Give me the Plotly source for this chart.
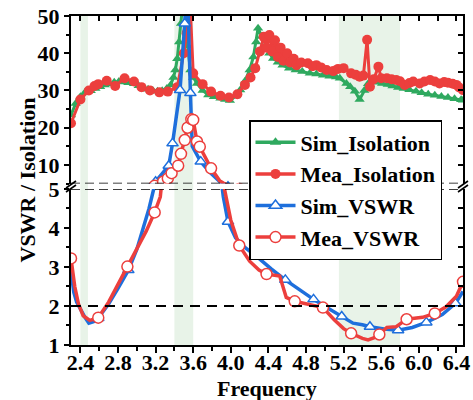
import plotly.graph_objects as go

# ---------------- data ----------------
sim_iso_f = [2.30, 2.35, 2.40, 2.45, 2.51, 2.56, 2.61, 2.66, 2.71, 2.76, 2.81, 2.86, 2.91, 2.97,
             3.02, 3.07, 3.12, 3.17, 3.22, 3.27, 3.32, 3.36, 3.39, 3.41, 3.43, 3.45, 3.47, 3.50,
             3.54, 3.57, 3.60, 3.64, 3.70, 3.76, 3.82, 3.89, 3.94, 3.99, 4.05, 4.10, 4.15, 4.20,
             4.24, 4.27, 4.29, 4.33, 4.38, 4.41, 4.45, 4.50, 4.55, 4.62, 4.69, 4.76, 4.84, 4.91,
             4.98, 5.05, 5.12, 5.16, 5.23, 5.27, 5.32, 5.37, 5.42, 5.46, 5.51, 5.55, 5.61, 5.67,
             5.72, 5.78, 5.84, 5.90, 5.97, 6.03, 6.10, 6.17, 6.24, 6.31, 6.38, 6.45, 6.47]
sim_iso_v = [23.4, 26.5, 28.3, 29.5, 29.9, 30.5, 31.0, 31.5, 31.8, 32.2, 32.4, 32.3, 32.1, 31.8,
             31.3, 30.8, 30.3, 30.0, 29.8, 29.9, 30.5, 31.5, 33.5, 35.5, 38.5, 43.0, 48.0, 56.0,
             42.0, 35.5, 33.5, 31.9, 30.0, 28.8, 28.3, 27.9, 27.6, 27.3, 28.5, 30.1, 32.5, 35.5,
             39.0, 43.0, 46.7, 44.5, 41.5, 40.0, 38.6, 37.6, 36.8, 36.0, 35.5, 35.1, 34.6, 34.4,
             34.1, 33.8, 33.6, 33.3, 31.9, 31.0, 29.8, 27.6, 30.0, 31.8, 32.4, 32.2, 31.9, 31.6,
             31.2, 30.8, 30.5, 30.2, 29.8, 29.4, 29.0, 28.7, 28.4, 28.1, 27.8, 27.5, 27.4]

mea_iso_f = [2.30, 2.40, 2.49, 2.55, 2.59, 2.68, 2.77, 2.87, 2.97, 3.05, 3.14, 3.24, 3.33, 3.43,
             3.50, 3.53, 3.555, 3.60, 3.70, 3.79, 3.89, 3.98, 4.07, 4.15, 4.21, 4.26, 4.31, 4.35,
             4.38, 4.41, 4.44, 4.47, 4.50, 4.53, 4.56, 4.60, 4.63, 4.67, 4.70, 4.75, 4.82, 4.87,
             4.91, 4.96, 5.02, 5.09, 5.14, 5.20, 5.28, 5.33, 5.37, 5.41, 5.45, 5.48, 5.52, 5.57,
             5.60, 5.66, 5.71, 5.76, 5.80, 5.85, 5.90, 5.94, 6.01, 6.06, 6.12, 6.17, 6.22, 6.27,
             6.31, 6.36, 6.40, 6.43, 6.47]
mea_iso_v = [21.2, 27.6, 30.0, 31.2, 31.7, 32.6, 31.2, 33.3, 32.4, 30.9, 30.0, 29.5, 29.7, 30.9,
             40.0, 45.4, 60.0, 34.6, 31.7, 29.7, 28.6, 28.1, 29.0, 31.5, 33.5, 36.0, 40.5, 44.4,
             41.5, 44.9, 40.5, 43.5, 39.0, 41.5, 38.0, 40.0, 37.5, 38.5, 36.8, 37.5, 37.3, 36.5,
             36.8, 36.2, 35.5, 35.2, 35.8, 36.0, 34.6, 34.2, 33.7, 34.0, 43.6, 31.0, 33.0, 36.4,
             33.3, 33.3, 33.0, 32.8, 32.5, 31.5, 32.0, 32.4, 31.9, 32.4, 32.8, 32.4, 31.9, 32.3,
             32.1, 31.8, 31.5, 30.8, 30.1]

sim_vswr_f = [2.30, 2.33, 2.36, 2.40, 2.45, 2.49, 2.54, 2.59, 2.70, 2.80, 2.91, 3.00, 3.07, 3.13,
              3.18, 3.20, 3.27, 3.34, 3.38, 3.42, 3.46, 3.51, 3.535, 3.57, 3.59, 3.68, 3.78, 3.88,
              3.92, 3.97, 4.05, 4.15, 4.28, 4.43, 4.58, 4.73, 4.88, 5.03, 5.18, 5.30, 5.40, 5.48,
              5.63, 5.78, 5.93, 6.08, 6.25, 6.39, 6.47]
sim_vswr_v = [2.88, 2.35, 2.10, 1.90, 1.70, 1.56, 1.60, 1.69, 2.05, 2.45, 2.92, 3.45, 4.00, 4.50,
              5.00, 5.50, 7.50, 9.80, 15.8, 22.5, 30.1, 48.0, 62.0, 29.3, 15.0, 10.9, 8.0, 5.6,
              4.8, 4.16, 3.75, 3.50, 3.26, 2.95, 2.67, 2.42, 2.17, 1.95, 1.73, 1.56, 1.52, 1.47,
              1.41, 1.38, 1.45, 1.58, 1.78, 2.07, 2.37]
sim_vswr_marks = [2.59, 2.91, 3.20, 3.34, 3.38, 3.46, 3.51, 3.57, 3.68, 3.97, 4.28, 4.58, 4.88,
                  5.18, 5.48, 5.78, 6.08, 6.39]

mea_vswr_f = [2.30, 2.34, 2.38, 2.43, 2.50, 2.59, 2.70, 2.80, 2.90, 3.00, 3.10, 3.19, 3.25, 3.28,
              3.33, 3.37, 3.44, 3.47, 3.51, 3.54, 3.58, 3.60, 3.64, 3.67, 3.79, 3.88, 3.92, 4.00,
              4.09, 4.20, 4.30, 4.38, 4.52, 4.59, 4.68, 4.80, 4.90, 4.98, 5.10, 5.20, 5.28, 5.40,
              5.46, 5.52, 5.58, 5.66, 5.76, 5.87, 6.04, 6.17, 6.29, 6.40, 6.47]
mea_vswr_v = [3.22, 2.50, 2.05, 1.75, 1.63, 1.70, 2.10, 2.55, 3.01, 3.45, 3.92, 4.40, 4.80, 5.50,
              6.40, 7.80, 9.80, 13.0, 16.7, 20.0, 22.3, 22.1, 16.3, 14.9, 9.1, 5.8, 5.15, 4.20,
              3.55, 3.15, 2.92, 2.82, 2.77, 2.22, 2.12, 2.06, 2.02, 1.96, 1.65, 1.42, 1.30, 1.17,
              1.13, 1.18, 1.27, 1.45, 1.47, 1.66, 1.71, 1.81, 1.98, 2.25, 2.62]
mea_vswr_marks = [2.30, 2.59, 2.90, 3.19, 3.28, 3.33, 3.37, 3.44, 3.47, 3.51, 3.54, 3.58, 3.60,
                  3.64, 3.67, 3.79, 4.09, 4.38, 4.68, 4.98, 5.28, 5.58, 5.87, 6.17, 6.47]

bands = [(2.40, 2.48), (3.40, 3.60), (5.15, 5.80)]
x_ticks = [2.4, 2.8, 3.2, 3.6, 4.0, 4.4, 4.8, 5.2, 5.6, 6.0, 6.4]
y_low_ticks = [1, 2, 3, 4, 5]
y_up_ticks = [10, 20, 30, 40, 50]
names = ["Sim_Isolation", "Mea_Isolation", "Sim_VSWR", "Mea_VSWR"]

# ---------------- styles ----------------
GREEN = "#2FA95F"
RED = "#EC3F3D"
BLUE = "#1E6FDC"
FONT = "Liberation Serif, Times New Roman, serif"

fig = go.Figure()

fig.add_trace(go.Scatter(x=sim_iso_f, y=sim_iso_v, xaxis="x", yaxis="y2", mode="lines+markers",
                         line=dict(color=GREEN, width=3),
                         marker=dict(symbol="triangle-up", size=9, color=GREEN),
                         showlegend=False, hoverinfo="skip"))
fig.add_trace(go.Scatter(x=mea_iso_f, y=mea_iso_v, xaxis="x", yaxis="y2", mode="lines+markers",
                         line=dict(color=RED, width=3),
                         marker=dict(symbol="circle", size=10, color=RED),
                         showlegend=False, hoverinfo="skip"))


def add_vswr(f, v, marks, color, symbol, size):
    lookup = dict(zip(f, v))
    mv = [lookup[m] for m in marks]
    for ya in ("y", "y2"):
        fig.add_trace(go.Scatter(x=f, y=v, xaxis="x", yaxis=ya, mode="lines",
                                 line=dict(color=color, width=3.5),
                                 showlegend=False, hoverinfo="skip"))
        fig.add_trace(go.Scatter(x=marks, y=mv, xaxis="x", yaxis=ya, mode="markers",
                                 marker=dict(symbol=symbol, size=size, color="white",
                                             line=dict(color=color, width=1.5)),
                                 showlegend=False, hoverinfo="skip"))


add_vswr(sim_vswr_f, sim_vswr_v, sim_vswr_marks, BLUE, "triangle-up", 10)
add_vswr(mea_vswr_f, mea_vswr_v, mea_vswr_marks, RED, "circle", 11)

leg_styles = [
    (GREEN, dict(symbol="triangle-up", size=10, color=GREEN)),
    (RED, dict(symbol="circle", size=10, color=RED)),
    (BLUE, dict(symbol="triangle-up", size=11, color="white", line=dict(color=BLUE, width=1.5))),
    (RED, dict(symbol="circle", size=11, color="white", line=dict(color=RED, width=1.5))),
]
for i, (nm, (c, mk)) in enumerate(zip(names, leg_styles)):
    fig.add_trace(go.Scatter(x=[None], y=[None], xaxis="x", yaxis="y2", mode="lines+markers",
                             name=nm, line=dict(color=c, width=3.5), marker=mk,
                             legendrank=i + 1))

fig.add_trace(go.Scatter(x=[None], y=[None], xaxis="x2", yaxis="y2", showlegend=False, hoverinfo="skip"))
fig.add_trace(go.Scatter(x=[None], y=[None], xaxis="x", yaxis="y3", showlegend=False, hoverinfo="skip"))
fig.add_trace(go.Scatter(x=[None], y=[None], xaxis="x", yaxis="y4", showlegend=False, hoverinfo="skip"))

tickfont = dict(family=FONT, size=22, color="black", weight="bold")
XR = [2.3, 6.47]
LOW_DOM = [0, 0.4742]
UP_DOM = [0.4906, 1]

common = dict(showgrid=False, zeroline=False, showline=True, linecolor="black", linewidth=2,
              tickcolor="black", tickwidth=2, automargin=False)

fig.update_layout(
    width=473, height=400,
    margin=dict(l=71, r=10, t=16, b=55, autoexpand=False),
    paper_bgcolor="white", plot_bgcolor="rgba(0,0,0,0)",
    xaxis=dict(domain=[0, 1], anchor="y", range=XR, tickvals=x_ticks,
               ticktext=[f"{t:.1f}" for t in x_ticks], ticks="outside", ticklen=6,
               tickfont=tickfont, ticklabelstandoff=-9, ticklabeloverflow="allow",
               minor=dict(dtick=0.2, tick0=2.4, ticks="outside", ticklen=4, tickwidth=1.5,
                          tickcolor="black"),
               **common),
    xaxis2=dict(overlaying="x", side="top", anchor="y2", range=XR, ticks="inside",
                dtick=0.2, tick0=2.4, ticklen=5, showticklabels=False, **common),
    yaxis=dict(domain=LOW_DOM, anchor="x", range=[1, 5], tickvals=y_low_ticks,
               ticks="outside", ticklen=5, tickfont=tickfont, ticklabeloverflow="allow",
               minor=dict(dtick=0.5, tick0=1, ticks="outside", ticklen=3, tickwidth=1.5,
                          tickcolor="black"),
               **common),
    yaxis2=dict(domain=UP_DOM, anchor="x", range=[5, 50], tickvals=y_up_ticks,
                ticks="outside", ticklen=5, tickfont=tickfont, ticklabeloverflow="allow",
                minor=dict(dtick=5, tick0=0, ticks="outside", ticklen=3, tickwidth=1.5,
                           tickcolor="black"),
                **common),
    yaxis3=dict(overlaying="y", side="right", anchor="x", range=[1, 5], ticks="inside",
                dtick=0.5, tick0=1, ticklen=5, showticklabels=False, **common),
    yaxis4=dict(overlaying="y2", side="right", anchor="x", range=[5, 50], ticks="inside",
                dtick=5, tick0=0, ticklen=5, showticklabels=False, **common),
    legend=dict(x=(249 - 71) / 392, y=(345 - 120) / 329, xanchor="left", yanchor="top",
                bgcolor="white", bordercolor="black", borderwidth=1.5,
                font=dict(family=FONT, size=22, color="black", weight="bold"),
                itemwidth=40, traceorder="normal"),
    showlegend=True,
)

shapes = []
for a, b in bands:
    shapes.append(dict(type="rect", xref="x", yref="paper", x0=a, x1=b, y0=0, y1=1,
                       fillcolor="#E8F3E8", line=dict(width=0), layer="below"))
shapes.append(dict(type="line", xref="paper", yref="y2", x0=0, x1=1, y0=5, y1=5,
                   line=dict(color="black", width=1.6, dash="9px,5px")))
shapes.append(dict(type="line", xref="paper", yref="y", x0=0, x1=1, y0=5, y1=5,
                   line=dict(color="black", width=1.6, dash="9px,5px")))
shapes.append(dict(type="line", xref="paper", yref="y", x0=0, x1=1, y0=2, y1=2,
                   line=dict(color="black", width=2, dash="10px,7px")))


def px2paper(px, py):
    return (px - 71) / 392, (345 - py) / 329


for xc in (71, 463):
    for dy in (0, 4):
        x0, y0 = px2paper(xc - 5, 188 + dy)
        x1, y1 = px2paper(xc + 5, 181 + dy)
        shapes.append(dict(type="line", xref="paper", yref="paper", x0=x0, y0=y0, x1=x1, y1=y1,
                           line=dict(color="black", width=1.6)))

fig.update_layout(shapes=shapes)

titlefont = dict(family=FONT, size=22, color="black", weight="bold")
fx, fy = px2paper(267, 388)
tx, ty = px2paper(27, 180.5)
fig.add_annotation(text="Frequency", xref="paper", yref="paper", x=fx, y=fy, showarrow=False,
                   xanchor="center", yanchor="middle", font=titlefont)
fig.add_annotation(text="VSWR / Isolation", xref="paper", yref="paper", x=tx, y=ty,
                   showarrow=False, textangle=-90, xanchor="center", yanchor="middle",
                   font=titlefont)

# remove the browser's default 8px body margin so the figure fills the window exactly
fig.write_html("out.html", config={"displayModeBar": False},
               post_script="document.body.style.margin='0px';")
